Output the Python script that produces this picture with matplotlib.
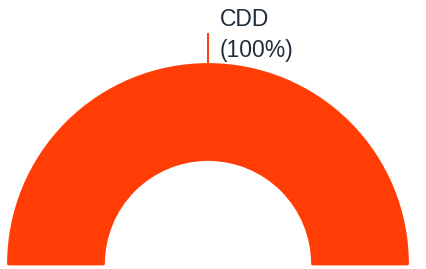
import matplotlib
matplotlib.use("Agg")
import matplotlib.pyplot as plt
import numpy as np

# data
labels = ["CDD"]
values = [100]
colors = ["#ff3d05"]

W, H = 427, 269
CX, CY, R = 208, 264, 201   # pixel centre (from top) and outer radius
INNER = 103

fig = plt.figure(figsize=(W / 100, H / 100), dpi=100)
ax = fig.add_axes([0, 0, 1, 1])

total = sum(values)
# half donut: real slices fill the top half, a hidden slice fills the bottom
rad = 1 - 1.5 / R
wedges, _ = ax.pie(values + [total], colors=colors + ["none"], startangle=0,
                   counterclock=True, radius=rad,
                   wedgeprops=dict(width=rad - (INNER + 1.5) / R, edgecolor="none"))
for w, c in zip(wedges[:len(values)], colors):
  w.set_edgecolor(c)
  w.set_linewidth(2.0)
  w.set_joinstyle("round")
wedges[-1].set_visible(False)

# label with leader line
acc = 0
for lab, v, c in zip(labels, values, colors):
  mid = np.deg2rad(180 * (acc + v / 2) / total)
  acc += v
  x0, y0 = np.cos(mid), np.sin(mid)
  ax.plot([x0, x0], [y0, y0 + 30 / R], color=c, lw=1.4, solid_capstyle="butt")
  ax.text(x0 + 12 / R, y0 + 28 / R, "%s\n(%d%%)" % (lab, round(100 * v / total)),
          ha="left", va="center", fontsize=16.5, linespacing=1.4,
          color="#1f2d3a", family=["Liberation Sans", "DejaVu Sans"])

ax.set_xlim(-CX / R, (W - CX) / R)
ax.set_ylim(-(H - CY) / R, CY / R)
ax.set_aspect("auto")
ax.axis("off")

fig.savefig("out.png", dpi=100)
